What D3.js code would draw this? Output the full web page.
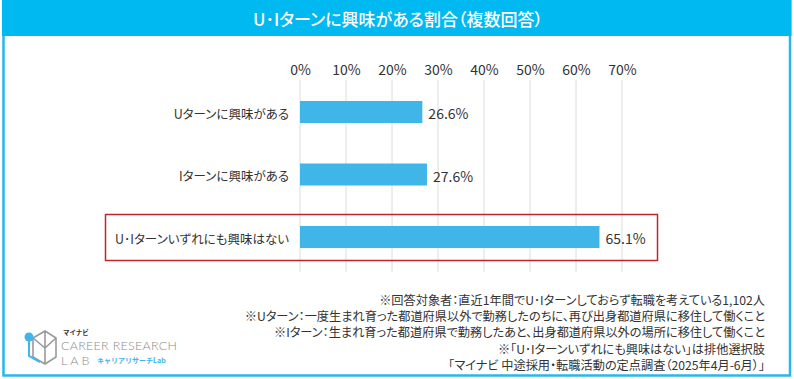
<!DOCTYPE html>
<html>
<head>
<meta charset="utf-8">
<script src="https://cdn.jsdelivr.net/npm/d3@7"></script>
<style>
  html, body { margin: 0; padding: 0; background: #fff; }
  svg { display: block; font-family: "Noto Sans CJK JP", "Noto Sans", sans-serif; }
  .jp { font-feature-settings: "palt"; }
</style>
</head>
<body>
<svg id="chart" width="794" height="379"></svg>
<script>
(function (d3) {
    'use strict';

    var title = 'U･Iターンに興味がある割合（複数回答）';
    var categories = ['Uターンに興味がある', 'Iターンに興味がある', 'U･Iターンいずれにも興味はない'];
    var values = [26.6, 27.6, 65.1];
    var ticks = [0, 10, 20, 30, 40, 50, 60, 70];
    var notes = [
        '※回答対象者：直近1年間でU･Iターンしておらず転職を考えている1,102人',
        '※Uターン：一度生まれ育った都道府県以外で勤務したのちに、再び出身都道府県に移住して働くこと',
        '※Iターン：生まれ育った都道府県で勤務したあと、出身都道府県以外の場所に移住して働くこと',
        '※「U･Iターンいずれにも興味はない」は排他選択肢',
        '「マイナビ 中途採用・転職活動の定点調査（2025年4月-6月）」'
    ];
    var highlighted = 'U･Iターンいずれにも興味はない';

    var blue = '#00b9f1',
    barColor = '#3fb5e8',
    textColor = '#333';

    var svg = d3.select('#chart');

    // frame + header band
    svg.append('rect')
        .attr('x', 3.5).attr('y', 1).attr('width', 786.5).attr('height', 374.5)
        .attr('fill', '#fff').attr('stroke', '#29b6ec').attr('stroke-width', 2.5);
    svg.append('rect')
        .attr('x', 2).attr('y', 0).attr('width', 789.5).attr('height', 36)
        .attr('fill', blue);
    svg.append('text')
        .attr('class', 'jp')
        .attr('x', 398).attr('y', 18.5)
        .attr('text-anchor', 'middle').attr('dominant-baseline', 'central')
        .attr('fill', '#fff').attr('font-size', 17).attr('font-weight', 500)
        .text(title);

    var x = d3.scaleLinear().domain([0, 70]).range([300, 622]);
    var y = d3.scalePoint().domain(categories).range([80.75, 268.25]).padding(0.5);
    var barH = 22;

    // grid
    svg.append('g').selectAll('line')
        .data(ticks)
        .enter()
        .append('line')
        .attr('x1', function (d) { return x(d); })
        .attr('x2', function (d) { return x(d); })
        .attr('y1', 80).attr('y2', 272)
        .attr('stroke', '#dcdcdc').attr('stroke-width', 1);

    // top axis labels
    var axis = svg.append('g')
        .attr('transform', 'translate(0,75)')
        .call(d3.axisTop(x).tickValues(ticks).tickSize(0).tickPadding(0)
            .tickFormat(function (d) { return d + '%'; }));
    axis.select('.domain').remove();
    axis.selectAll('text')
        .attr('font-family', '"Noto Sans CJK JP", sans-serif')
        .attr('font-size', 14).attr('fill', textColor);

    // bars
    svg.append('g').selectAll('rect')
        .data(values)
        .enter()
        .append('rect')
        .attr('x', x(0))
        .attr('y', function (d, i) { return y(categories[i]) - barH / 2; })
        .attr('width', function (d) { return x(d) - x(0); })
        .attr('height', barH)
        .attr('fill', barColor);

    // value labels
    svg.append('g').selectAll('text')
        .data(values)
        .enter()
        .append('text')
        .attr('x', function (d) { return x(d) + 6; })
        .attr('y', function (d, i) { return y(categories[i]) + 1; })
        .attr('dominant-baseline', 'central')
        .attr('font-size', 14).attr('fill', textColor)
        .text(function (d) { return d.toFixed(1) + '%'; });

    // category labels
    svg.append('g').selectAll('text')
        .data(categories)
        .enter()
        .append('text')
        .attr('class', 'jp')
        .attr('x', 289)
        .attr('y', function (d) { return y(d) + 1; })
        .attr('text-anchor', 'end').attr('dominant-baseline', 'central')
        .attr('font-size', 12.5).attr('fill', textColor)
        .text(function (d) { return d; });

    // red highlight box
    svg.append('rect')
        .attr('x', 105.5)
        .attr('y', y(highlighted) - 22.5)
        .attr('width', 552)
        .attr('height', 46)
        .attr('fill', 'none').attr('stroke', '#c0272d').attr('stroke-width', 1.5);

    // notes
    svg.append('g').selectAll('text')
        .data(notes)
        .enter()
        .append('text')
        .attr('class', 'jp')
        .attr('x', 765)
        .attr('y', function (d, i) { return 299.5 + i * 16.4; })
        .attr('text-anchor', 'end').attr('dominant-baseline', 'central')
        .attr('font-size', 12.2).attr('fill', textColor)
        .text(function (d) { return d; });

    // logo
    var logo = svg.append('g');
    logo.append('path')
        .attr('d', 'M33,338 L45,331 L56,338 L56,357 L45,364 L33,357 Z M45,331 L45,348 M33,338 L45,348 L56,338 M45,348 L45,364')
        .attr('fill', 'none').attr('stroke', '#9a9a9a').attr('stroke-width', 1.6);
    logo.append('path')
        .attr('d', 'M29,340 L29,356 L40,362')
        .attr('fill', 'none').attr('stroke', '#3fb5e8').attr('stroke-width', 2);
    logo.append('circle')
        .attr('cx', 29).attr('cy', 337).attr('r', 4.5).attr('fill', '#3fb5e8');
    logo.append('text')
        .attr('x', 63).attr('y', 331.5).attr('dominant-baseline', 'central')
        .attr('font-size', 6.5).attr('font-weight', 700).attr('fill', '#333')
        .text('マイナビ');
    logo.append('text')
        .attr('x', 61).attr('y', 345.5).attr('dominant-baseline', 'central')
        .attr('font-family', 'Lato, "Open Sans", sans-serif')
        .attr('font-size', 12.5).attr('font-weight', 300).attr('fill', '#8a8a8a')
        .attr('textLength', 116)
        .text('CAREER RESEARCH');
    logo.append('text')
        .attr('x', 61).attr('y', 360).attr('dominant-baseline', 'central')
        .attr('font-family', 'Lato, "Open Sans", sans-serif')
        .attr('font-size', 12.5).attr('font-weight', 300).attr('fill', '#8a8a8a')
        .attr('letter-spacing', 3)
        .text('LAB');
    logo.append('text')
        .attr('x', 97).attr('y', 360).attr('dominant-baseline', 'central')
        .attr('font-size', 7).attr('font-weight', 700).attr('fill', '#3fb5e8')
        .text('キャリアリサーチLab');

})(d3);
</script>
</body>
</html>
